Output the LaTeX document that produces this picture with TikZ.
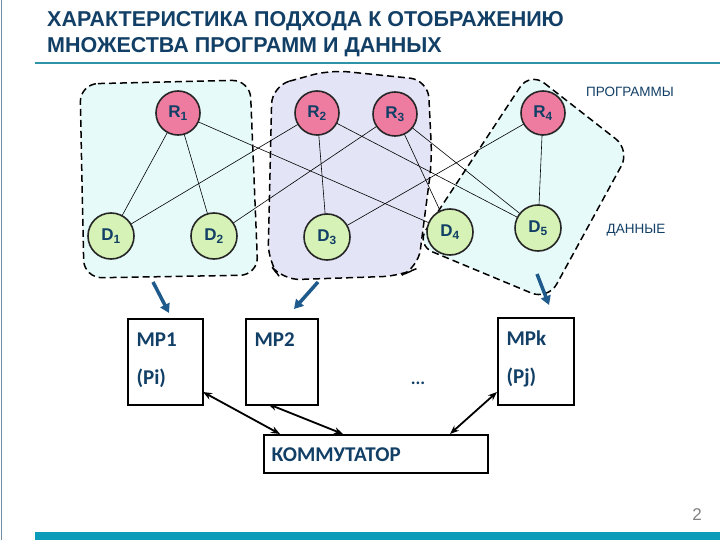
\documentclass[tikz,border=0pt]{standalone}
\usepackage{fontspec}
\setmainfont{Liberation Sans}
\newfontfamily\calib{Carlito}
\usetikzlibrary{arrows.meta}
\definecolor{tblue}{HTML}{123F66}
\definecolor{rpink}{HTML}{EE7BA0}
\definecolor{dgreen}{HTML}{D6F2B6}
\definecolor{cyanbg}{HTML}{E6FAFA}
\definecolor{lavbg}{HTML}{E4E4F7}
\definecolor{barc}{HTML}{0A9CB8}
\definecolor{arrb}{HTML}{1F5A8C}
\tikzset{
  rnode/.style={circle,draw=black!85,line width=1.6pt,fill=rpink,minimum size=44pt,inner sep=0pt,font=\bfseries\fontsize{17}{17}\selectfont,text=tblue},
  dnode/.style={circle,draw=black!85,line width=1.6pt,fill=dgreen,minimum size=46pt,inner sep=0pt,font=\bfseries\fontsize{17}{17}\selectfont,text=tblue},
  blob/.style={dashed,dash pattern=on 7pt off 4pt,line width=1.5pt,rounded corners=18pt},
  link/.style={line width=0.6pt},
  mpbox/.style={draw,line width=2pt,anchor=north west,inner sep=0pt},
  mptext/.style={anchor=west,font=\calib\bfseries\fontsize{21}{21}\selectfont,text=tblue},
  bluearr/.style={line width=3.5pt,arrb,-{Triangle[length=9pt,width=10pt]}},
  darr/.style={line width=1.8pt,{Stealth[length=9pt,width=7pt]}-{Stealth[length=9pt,width=7pt]}}
}
\begin{document}
\begin{tikzpicture}[x=1pt,y=-1pt]
\useasboundingbox (0,0) rectangle (720,540);
\fill[white] (0,0) rectangle (720,540);
\draw[tblue!60,line width=1pt] (1,0) -- (1,540);
% title
\node[anchor=west,font=\bfseries\fontsize{21.5}{21.5}\selectfont,text=tblue,inner sep=0pt] (t1) at (47,21) {ХАРАКТЕРИСТИКА ПОДХОДА К ОТОБРАЖЕНИЮ};
\node[anchor=west,font=\bfseries\fontsize{21.5}{21.5}\selectfont,text=tblue,inner sep=0pt] (t2) at (47,47) {МНОЖЕСТВА ПРОГРАММ И ДАННЫХ};
\draw[barc!70!gray,line width=1.5pt] (35,63) -- (720,63);
\fill[barc] (35,532) rectangle (720,540);
\node[font=\fontsize{17}{17}\selectfont,text=gray] (pg) at (697,515) {2};
% blobs
\draw[blob,fill=cyanbg] (80,84) -- (250,80) -- (258,275) -- (84,278) -- cycle;
\draw[blob,fill=lavbg] (272,86) -- (330,70) -- (428,80) -- (432,160) -- (418,268) -- (400,276) -- (282,280) -- (268,262) -- cycle;
\draw[blob,fill=cyanbg] (530,72) -- (630,150) -- (548,300) -- (416,245) -- cycle;
% node positions
\coordinate (cR1) at (178,113); \coordinate (cR2) at (317,113);
\coordinate (cR3) at (395,114); \coordinate (cR4) at (543,113);
\coordinate (cD1) at (111,236); \coordinate (cD2) at (214,236);
\coordinate (cD3) at (327,237); \coordinate (cD4) at (450,232);
\coordinate (cD5) at (538,228);
\foreach \a/\b in {R1/D1,R1/D2,R1/D4,R2/D1,R2/D3,R2/D5,R3/D2,R3/D4,R3/D5,R4/D3,R4/D5}
  \draw[link] (c\a) -- (c\b);
\node[rnode] (R1) at (cR1) {R\textsubscript{1}};
\node[rnode] (R2) at (cR2) {R\textsubscript{2}};
\node[rnode] (R3) at (cR3) {R\textsubscript{3}};
\node[rnode] (R4) at (cR4) {R\textsubscript{4}};
\node[dnode] (D1) at (cD1) {D\textsubscript{1}};
\node[dnode] (D2) at (cD2) {D\textsubscript{2}};
\node[dnode] (D3) at (cD3) {D\textsubscript{3}};
\node[dnode] (D4) at (cD4) {D\textsubscript{4}};
\node[dnode] (D5) at (cD5) {D\textsubscript{5}};
\node[font=\fontsize{13.5}{13.5}\selectfont,text=tblue] (lp) at (630,92) {ПРОГРАММЫ};
\node[font=\fontsize{13.5}{13.5}\selectfont,text=tblue] (ld) at (636,230) {ДАННЫЕ};
% boxes
\node[mpbox,minimum width=75pt,minimum height=86pt] (MP1) at (127,318) {};
\node[mpbox,minimum width=72pt,minimum height=86pt] (MP2) at (245,318) {};
\node[mpbox,minimum width=76pt,minimum height=87pt] (MPk) at (497,317) {};
\node[mpbox,minimum width=224pt,minimum height=38pt] (K) at (263,434) {};
\node[mptext] (m1) at (133,340) {MP1};
\node[mptext] (m1b) at (133,378) {(Pi)};
\node[mptext] (m2) at (251,340) {MP2};
\node[mptext] (mk) at (503,338) {MPk};
\node[mptext] (mkb) at (503,377) {(Pj)};
\node[mptext] (kt) at (268,455) {КОММУТАТОР};
\node[font=\calib\bfseries\fontsize{18}{18}\selectfont,text=tblue] (dots) at (418,383) {...};
% arrows
\coordinate (a1) at (153,282); \coordinate (a2) at (318,282); \coordinate (a3) at (537,274);
\coordinate (e1) at (169,313); \coordinate (e2) at (294,309); \coordinate (e3) at (549,305);
\draw[bluearr] (a1) -- (e1);
\draw[bluearr] (a2) -- (e2);
\draw[bluearr] (a3) -- (e3);
\coordinate (p1) at (203,392); \coordinate (q1) at (280,434);
\coordinate (p2) at (268,404); \coordinate (q2) at (343,434);
\coordinate (p3) at (497,392); \coordinate (q3) at (450,434);
\draw[darr] (p1) -- (q1);
\draw[darr] (p2) -- (q2);
\draw[darr] (p3) -- (q3);
\end{tikzpicture}
\end{document}
